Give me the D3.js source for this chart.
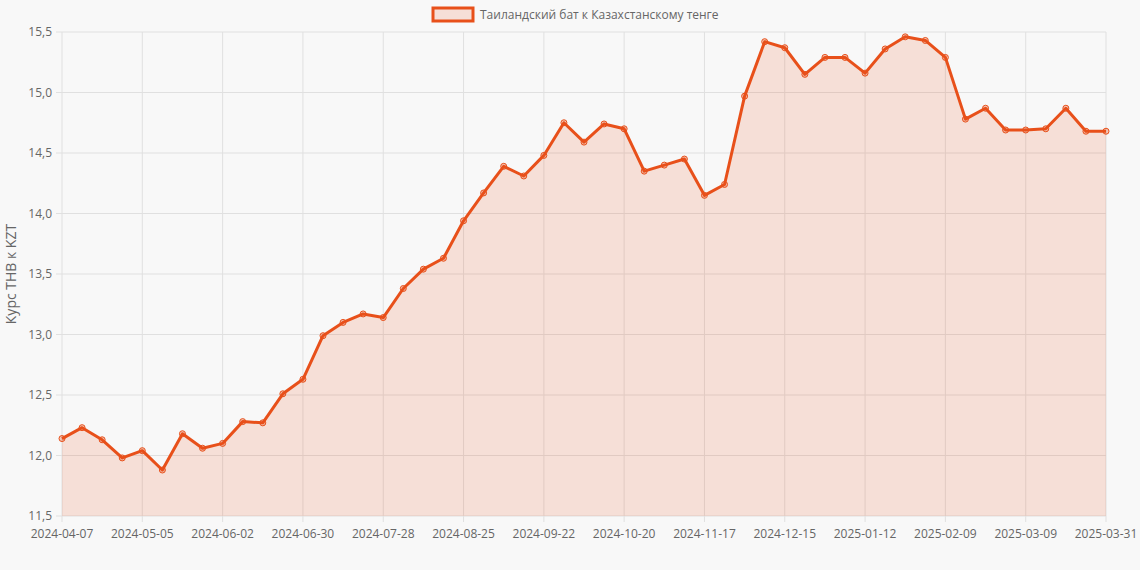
<!DOCTYPE html>
<html><head><meta charset="utf-8">
<script src="https://cdn.jsdelivr.net/npm/d3@7"></script>
<style>body{margin:0;background:#f8f8f8;font-family:"Open Sans",Arial,sans-serif}</style>
</head><body><svg id="c" width="1140" height="570"></svg>
<script>
const dates = ["2024-04-07","2024-04-14","2024-04-21","2024-04-28","2024-05-05","2024-05-12","2024-05-19","2024-05-26","2024-06-02","2024-06-09","2024-06-16","2024-06-23","2024-06-30","2024-07-07","2024-07-14","2024-07-21","2024-07-28","2024-08-04","2024-08-11","2024-08-18","2024-08-25","2024-09-01","2024-09-08","2024-09-15","2024-09-22","2024-09-29","2024-10-06","2024-10-13","2024-10-20","2024-10-27","2024-11-03","2024-11-10","2024-11-17","2024-11-24","2024-12-01","2024-12-08","2024-12-15","2024-12-22","2024-12-29","2025-01-05","2025-01-12","2025-01-19","2025-01-26","2025-02-02","2025-02-09","2025-02-16","2025-02-23","2025-03-02","2025-03-09","2025-03-16","2025-03-23","2025-03-30","2025-03-31"];
const values = [12.14,12.23,12.13,11.98,12.04,11.88,12.18,12.06,12.10,12.28,12.27,12.51,12.63,12.99,13.10,13.17,13.14,13.38,13.54,13.63,13.94,14.17,14.39,14.31,14.48,14.75,14.59,14.74,14.70,14.35,14.40,14.45,14.15,14.24,14.97,15.42,15.37,15.15,15.29,15.29,15.16,15.36,15.46,15.43,15.29,14.78,14.87,14.69,14.69,14.70,14.87,14.68,14.68];
const yTicks = [11.5,12,12.5,13,13.5,14,14.5,15,15.5];
const seriesName = "Таиландский бат к Казахстанскому тенге";
const color = "#e8501a";

const svg = d3.select("#c");
const L=62,R=1106,T=32,B=516;
const x = d3.scalePoint().domain(dates).range([L,R]);
const y = d3.scaleLinear().domain([11.5,15.5]).range([B,T]);
const fmt = v => d3.format(".1f")(v).replace(".",",");
const tickDates = dates.filter((d,i)=>i%4===0);

const g = svg.append("g");
g.selectAll(".hg").data(yTicks).join("line").attr("x1",L-6).attr("x2",R).attr("y1",d=>y(d)).attr("y2",d=>y(d)).attr("stroke","#e0e0e0");
g.selectAll(".vg").data(tickDates).join("line").attr("x1",d=>x(d)).attr("x2",d=>x(d)).attr("y1",T).attr("y2",B+6).attr("stroke","#e0e0e0");
g.selectAll(".yl").data(yTicks).join("text").attr("x",L-10).attr("y",d=>y(d)+4).attr("text-anchor","end").attr("font-size",12).attr("fill","#666").text(fmt);
g.selectAll(".xl").data(tickDates).join("text").attr("x",d=>x(d)).attr("y",B+22).attr("text-anchor","middle").attr("font-size",12).attr("fill","#666").text(d=>d);

svg.append("path").datum(values).attr("fill",color).attr("fill-opacity",0.15)
 .attr("d",d3.area().x((d,i)=>x(dates[i])).y0(B).y1(d=>y(d)));
svg.append("path").datum(values).attr("fill","none").attr("stroke",color).attr("stroke-width",3).attr("stroke-linejoin","round")
 .attr("d",d3.line().x((d,i)=>x(dates[i])).y(d=>y(d)));
svg.selectAll(".pt").data(values).join("circle").attr("cx",(d,i)=>x(dates[i])).attr("cy",d=>y(d)).attr("r",3)
 .attr("fill","rgba(232,80,26,0.3)").attr("stroke",color).attr("stroke-width",1);

svg.append("text").attr("transform","translate(16,274) rotate(-90)").attr("text-anchor","middle").attr("font-size",14).attr("fill","#666").text("Курс THB к KZT");
const lg = svg.append("g");
lg.append("rect").attr("x",433).attr("y",8).attr("width",40).attr("height",13).attr("fill","rgba(232,80,26,0.15)").attr("stroke",color).attr("stroke-width",3);
lg.append("text").attr("x",480).attr("y",19).attr("font-size",12).attr("fill","#666").text(seriesName);
</script></body></html>
